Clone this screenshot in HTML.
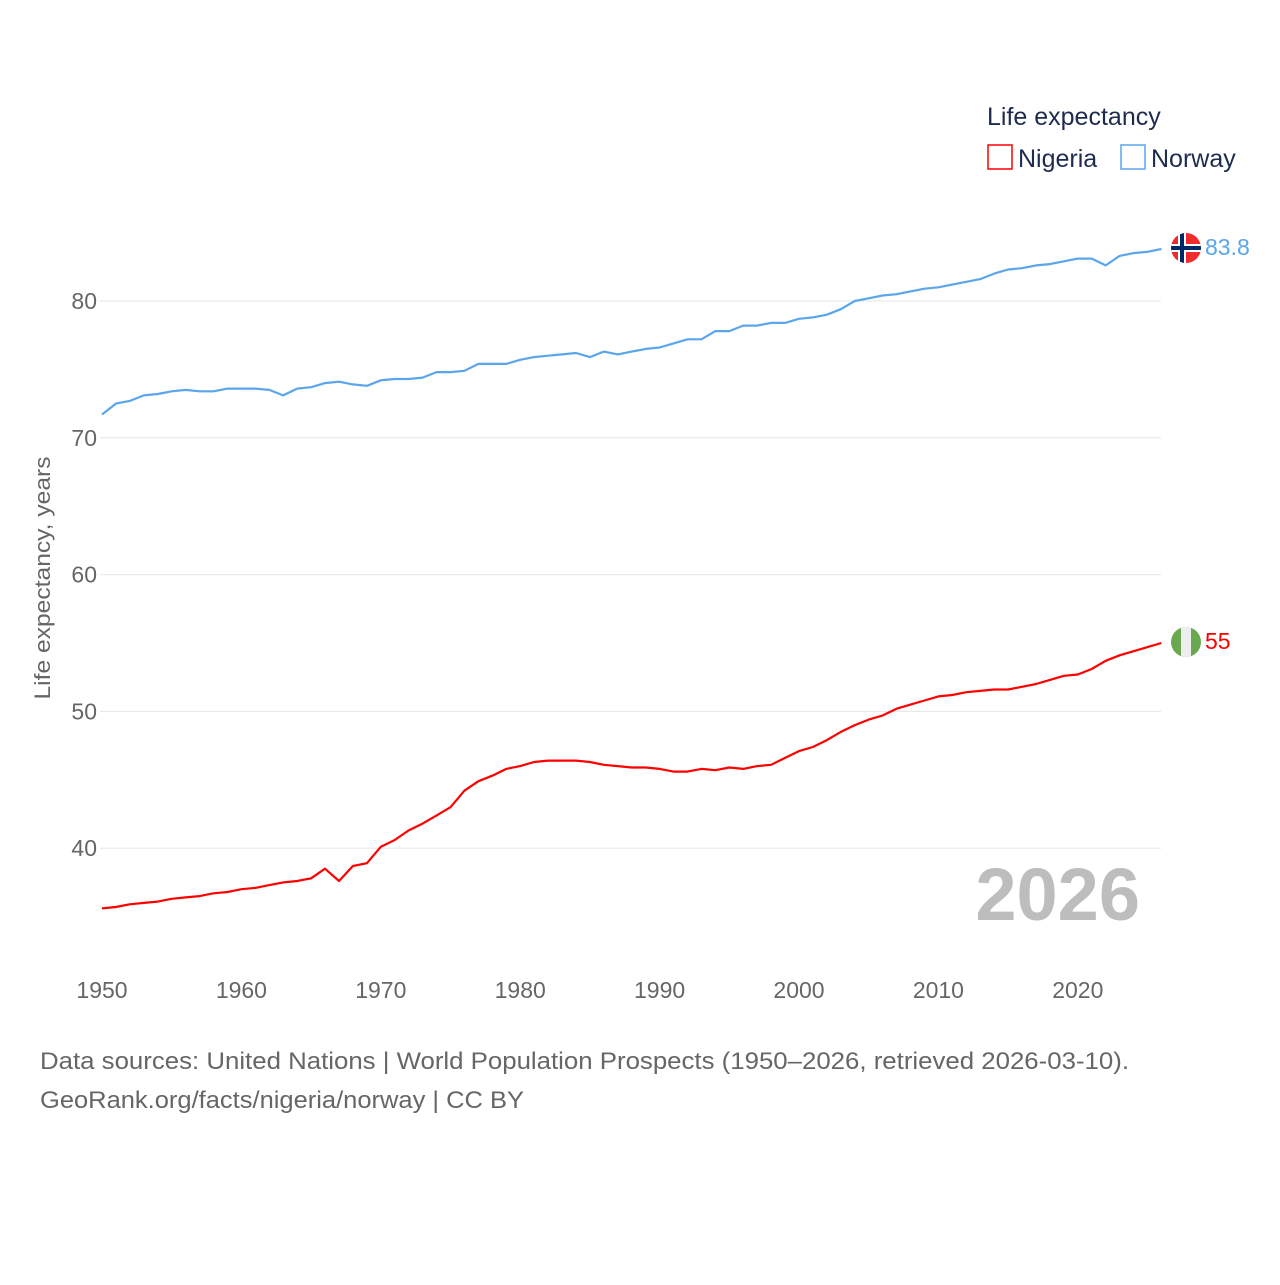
<!DOCTYPE html>
<html><head><meta charset="utf-8"><style>
body{margin:0;background:#fff;font-family:"Liberation Sans",sans-serif}
svg text{font-family:"Liberation Sans",sans-serif}
</style></head><body>
<svg width="1280" height="1280" viewBox="0 0 1280 1280">
<g id="grid"></g>
<g id="yticks"></g>
<g id="xticks"></g>
<text transform="translate(50,578) rotate(-90)" text-anchor="middle" font-size="22" fill="#666" textLength="243" lengthAdjust="spacingAndGlyphs">Life expectancy, years</text>
<text x="987" y="125" font-size="25" fill="#1d2b4f">Life expectancy</text>
<g>
<rect x="988" y="145" width="24" height="24" fill="none" stroke="#f00" stroke-width="1.5"/>
<text x="1018" y="167" font-size="25" fill="#1d2b4f">Nigeria</text></g>
<g>
<rect x="1121" y="145" width="24" height="24" fill="none" stroke="#5aa5ec" stroke-width="1.5"/>
<text x="1151" y="167" font-size="25" fill="#1d2b4f">Norway</text></g>
<text x="1140" y="920" text-anchor="end" font-size="74" font-weight="bold" fill="#bdbdbd">2026</text>
<g id="lines"></g>
<g>
<clipPath id="cn"><circle cx="1186" cy="248" r="15"/></clipPath>
<g clip-path="url(#cn)"><rect x="1171" y="233" width="30" height="30" fill="#ef2b2d"/>
<rect x="1171" y="244" width="30" height="8" fill="#fff"/><rect x="1178" y="233" width="8" height="30" fill="#fff"/>
<rect x="1171" y="246" width="30" height="4" fill="#002868"/><rect x="1180" y="233" width="4" height="30" fill="#002868"/></g></g>
<g>
<clipPath id="cg"><circle cx="1186" cy="642" r="15"/></clipPath>
<g clip-path="url(#cg)"><rect x="1171" y="627" width="30" height="30" fill="#6aa84f"/><rect x="1181" y="627" width="10" height="30" fill="#eee"/></g></g>
<text id="normLabel" x="1205" y="255" font-size="23" fill="#5aa5ec"></text>
<text id="nigLabel" x="1205" y="649" font-size="23" fill="#f00"></text>
<text x="40" y="1069" font-size="24" fill="#666" textLength="1089" lengthAdjust="spacingAndGlyphs">Data sources: United Nations | World Population Prospects (1950–2026, retrieved 2026-03-10).</text>
<text x="40" y="1108" font-size="24" fill="#666" textLength="484" lengthAdjust="spacingAndGlyphs">GeoRank.org/facts/nigeria/norway | CC BY</text>
</svg>
<script>
const years=[];for(let y=1950;y<=2026;y++)years.push(y);
const norway=[71.7,72.5,72.7,73.1,73.2,73.4,73.5,73.4,73.4,73.6,73.6,73.6,73.5,73.1,73.6,73.7,74.0,74.1,73.9,73.8,74.2,74.3,74.3,74.4,74.8,74.8,74.9,75.4,75.4,75.4,75.7,75.9,76.0,76.1,76.2,75.9,76.3,76.1,76.3,76.5,76.6,76.9,77.2,77.2,77.8,77.8,78.2,78.2,78.4,78.4,78.7,78.8,79.0,79.4,80.0,80.2,80.4,80.5,80.7,80.9,81.0,81.2,81.4,81.6,82.0,82.3,82.4,82.6,82.7,82.9,83.1,83.1,82.6,83.3,83.5,83.6,83.8];
const nigeria=[35.6,35.7,35.9,36.0,36.1,36.3,36.4,36.5,36.7,36.8,37.0,37.1,37.3,37.5,37.6,37.8,38.5,37.6,38.7,38.9,40.1,40.6,41.3,41.8,42.4,43.0,44.2,44.9,45.3,45.8,46.0,46.3,46.4,46.4,46.4,46.3,46.1,46.0,45.9,45.9,45.8,45.6,45.6,45.8,45.7,45.9,45.8,46.0,46.1,46.6,47.1,47.4,47.9,48.5,49.0,49.4,49.7,50.2,50.5,50.8,51.1,51.2,51.4,51.5,51.6,51.6,51.8,52.0,52.3,52.6,52.7,53.1,53.7,54.1,54.4,54.7,55.0];
const yTicks=[40,50,60,70,80];
const xTicks=[1950,1960,1970,1980,1990,2000,2010,2020];
const X=y=>102+(y-1950)*13.94;
const Y=v=>301+(80-v)*13.68;
const NS='http://www.w3.org/2000/svg';
const g=document.getElementById('grid'),yt=document.getElementById('yticks'),xt=document.getElementById('xticks'),L=document.getElementById('lines');
yTicks.forEach(v=>{
 const l=document.createElementNS(NS,'line');
 
 
 l.setAttribute('x1',100);l.setAttribute('x2',1161);l.setAttribute('y1',Y(v));l.setAttribute('y2',Y(v));
 l.setAttribute('stroke','#e6e6e6');l.setAttribute('stroke-width','1');g.appendChild(l);
 const t=document.createElementNS(NS,'text');
 
 
 t.setAttribute('x',97);t.setAttribute('y',Y(v)+8);t.setAttribute('text-anchor','end');t.setAttribute('font-size','23');t.setAttribute('fill','#666');t.textContent=v;yt.appendChild(t);
});
xTicks.forEach(v=>{
 const t=document.createElementNS(NS,'text');
 
 
 t.setAttribute('x',X(v));t.setAttribute('y',998);t.setAttribute('text-anchor','middle');t.setAttribute('font-size','23');t.setAttribute('fill','#666');t.textContent=v;xt.appendChild(t);
});
function line(data,color,name){
 const p=document.createElementNS(NS,'path');
 
 
 p.setAttribute('d',data.map((v,i)=>(i?'L':'M')+X(years[i]).toFixed(1)+','+Y(v).toFixed(1)).join(''));
 p.setAttribute('fill','none');p.setAttribute('stroke',color);p.setAttribute('stroke-width','2.2');p.setAttribute('stroke-linejoin','round');
 L.appendChild(p);
}
line(norway,'#5aa5ec','norway-line');
line(nigeria,'#f00','nigeria-line');
document.getElementById('normLabel').textContent=norway[norway.length-1];
document.getElementById('nigLabel').textContent=Math.round(nigeria[nigeria.length-1]*10)/10;
</script>
</body></html>
